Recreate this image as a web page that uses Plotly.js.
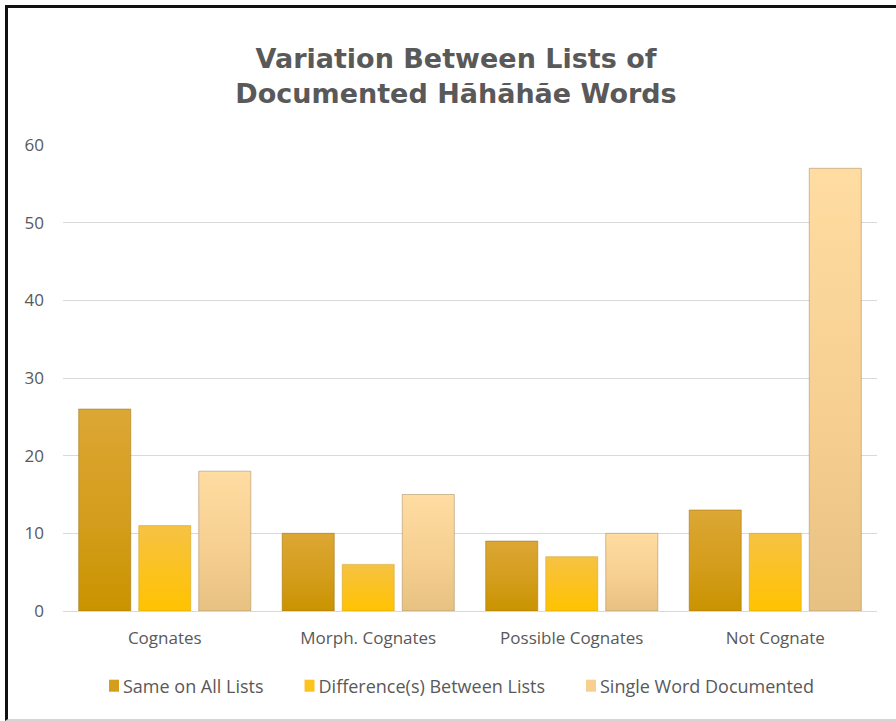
<!DOCTYPE html>
<html>
<head>
<meta charset="utf-8">
<script src="https://cdn.plot.ly/plotly-3.0.1.min.js"></script>
<style>
  html, body { margin: 0; padding: 0; background: #ffffff; }
  #wrap { position: relative; width: 896px; height: 721px; overflow: hidden; }
  #chart { position: absolute; left: 0; top: 0; width: 896px; height: 721px; }
  /* chart frame: dark top/left edge, light rule at the bottom */
  #frame {
    position: absolute; left: 5px; top: 5px; width: 900px; height: 716px;
    border-left: 3px solid #111111; border-top: 3px solid #111111;
    border-bottom: 2px solid #d4d4d4; pointer-events: none; box-sizing: border-box;
  }
</style>
</head>
<body>
<div id="wrap">
  <div id="chart"></div>
  <div id="frame"></div>
</div>
<script>
// Word comparison groups
const categories = ['Cognates', 'Morph. Cognates', 'Possible Cognates', 'Not Cognate'];

// Series values per group
const sameOnAllLists = [26, 10, 9, 13];
const differencesBetweenLists = [11, 6, 7, 10];
const singleWordDocumented = [18, 15, 10, 57];

const seriesNames = ['Same on All Lists', 'Difference(s) Between Lists', 'Single Word Documented'];
const yTicks = [0, 10, 20, 30, 40, 50, 60];

// base colour plus top/bottom stops for the vertical shading of each series
const palette = [
  { base: '#D49D1C', top: '#DCA734', bottom: '#C99300', edge: 'rgba(160,115,20,0.55)' },
  { base: '#FCC21E', top: '#F6C244', bottom: '#FFC300', edge: 'rgba(200,150,30,0.45)' },
  { base: '#F6CF91', top: '#FFDCA2', bottom: '#E7C182', edge: 'rgba(170,140,100,0.55)' }
];

const seriesValues = [sameOnAllLists, differencesBetweenLists, singleWordDocumented];

const traces = seriesValues.map((vals, i) => ({
  type: 'bar',
  name: seriesNames[i],
  x: categories,
  y: vals,
  marker: { color: palette[i].base, line: { color: palette[i].edge, width: 1 } },
  hoverinfo: 'x+y+name'
}));

const textColor = '#595959';
const gridColor = '#d9d9d9';

const layout = {
  width: 896,
  height: 721,
  paper_bgcolor: 'rgba(0,0,0,0)',
  plot_bgcolor: '#ffffff',
  margin: { l: 63, r: 19, t: 145, b: 110, autoexpand: false },
  barmode: 'group',
  bargap: 0.115,
  bargroupgap: 0.133,
  title: {
    text: 'Variation Between Lists of<br>Documented Hãhãhãe Words',
    font: { family: 'DejaVu Sans', size: 27, color: textColor, weight: 'bold' },
    x: 456 / 896,
    xref: 'container',
    xanchor: 'center',
    y: 1 - 68 / 721,
    yref: 'container',
    yanchor: 'middle'
  },
  xaxis: {
    type: 'category',
    showgrid: false,
    showline: true,
    linecolor: gridColor,
    linewidth: 1,
    ticks: '',
    tickangle: 0,
    automargin: false,
    ticklabelstandoff: 12,
    tickfont: { family: 'Open Sans', size: 17, color: textColor },
    zeroline: false
  },
  yaxis: {
    range: [0, 60],
    tickvals: yTicks,
    ticktext: yTicks.map(String),
    showgrid: true,
    gridcolor: gridColor,
    gridwidth: 1,
    zeroline: false,
    showline: false,
    ticks: '',
    automargin: false,
    ticklabelstandoff: 18,
    tickfont: { family: 'Open Sans', size: 17, color: textColor }
  },
  legend: {
    orientation: 'h',
    x: (441 - 63) / 814,
    xanchor: 'center',
    y: (611 - 686) / 466,
    yanchor: 'middle',
    font: { family: 'Open Sans', size: 18, color: textColor },
    itemwidth: 30,
    bgcolor: 'rgba(0,0,0,0)'
  },
  showlegend: true
};

// vertical shading on the bars, layered onto the rendered SVG
function shadeBars(gd) {
  const svgNS = 'http://www.w3.org/2000/svg';
  const svg = gd.querySelector('svg.main-svg');
  if (!svg) return;
  let defs = svg.querySelector('defs');
  if (!defs) { defs = document.createElementNS(svgNS, 'defs'); svg.insertBefore(defs, svg.firstChild); }
  palette.forEach((p, i) => {
    const g = document.createElementNS(svgNS, 'linearGradient');
    g.setAttribute('id', 'barShade' + i);
    g.setAttribute('x1', '0'); g.setAttribute('y1', '0');
    g.setAttribute('x2', '0'); g.setAttribute('y2', '1');
    [['0', p.top], ['0.55', p.base], ['1', p.bottom]].forEach(([off, col]) => {
      const s = document.createElementNS(svgNS, 'stop');
      s.setAttribute('offset', off);
      s.setAttribute('stop-color', col);
      g.appendChild(s);
    });
    defs.appendChild(g);
  });
  const barTraces = gd.querySelectorAll('.barlayer .trace');
  barTraces.forEach((t, i) => {
    t.querySelectorAll('path').forEach(p => { p.style.fill = 'url(#barShade' + i + ')'; });
  });
}

// compact legend keys sitting close to their labels, with wider spacing between entries
function tightenLegend(gd) {
  gd.querySelectorAll('.legend [clip-path]').forEach(el => el.removeAttribute('clip-path'));
  gd.querySelectorAll('.legend .traces').forEach((entry, i) => {
    const tf = entry.getAttribute('transform') || '';
    const m = tf.match(/translate\(\s*([-\d.]+)[ ,]+([-\d.]+)\s*\)/);
    if (m) {
      const x = parseFloat(m[1]) + i * 10;
      entry.setAttribute('transform', 'translate(' + x + ',' + m[2] + ')');
    }
    const pts = entry.querySelector('.legendpoints');
    if (pts) {
      pts.setAttribute('transform', 'translate(11,0)');
      pts.querySelectorAll('path').forEach(p => {
        p.setAttribute('d', 'M5,6H-5V-6H5Z');
        p.style.strokeWidth = '0';
      });
    }
  });
}

const gd = document.getElementById('chart');
Plotly.newPlot(gd, traces, layout, { displayModeBar: false, staticPlot: true })
  .then(() => { shadeBars(gd); tightenLegend(gd); });
</script>
</body>
</html>
